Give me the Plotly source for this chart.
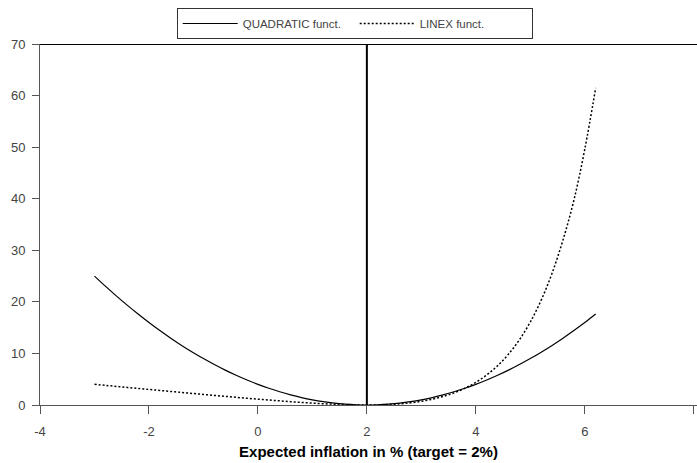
import plotly.graph_objects as go

# Expected inflation (%), inflation target = 2%
inflation = [-3.0, -2.8, -2.6, -2.4, -2.2, -2.0, -1.8, -1.6, -1.4, -1.2,
             -1.0, -0.8, -0.6, -0.4, -0.2, 0.0, 0.2, 0.4, 0.6, 0.8,
             1.0, 1.2, 1.4, 1.6, 1.8, 2.0, 2.2, 2.4, 2.6, 2.8,
             3.0, 3.2, 3.4, 3.6, 3.8, 4.0, 4.2, 4.4, 4.6, 4.8,
             5.0, 5.2, 5.4, 5.6, 5.8, 6.0, 6.2]

quadratic_loss = [25.0, 23.04, 21.16, 19.36, 17.64, 16.0, 14.44, 12.96, 11.56, 10.24,
                  9.0, 7.84, 6.76, 5.76, 4.84, 4.0, 3.24, 2.56, 1.96, 1.44,
                  1.0, 0.64, 0.36, 0.16, 0.04, 0.0, 0.04, 0.16, 0.36, 0.64,
                  1.0, 1.44, 1.96, 2.56, 3.24, 4.0, 4.84, 5.76, 6.76, 7.84,
                  9.0, 10.24, 11.56, 12.96, 14.44, 16.0, 17.64]

linex_loss = [4.007, 3.808, 3.610, 3.412, 3.215, 3.018, 2.822, 2.627, 2.433, 2.241,
              2.050, 1.861, 1.674, 1.491, 1.311, 1.135, 0.965, 0.802, 0.647, 0.501,
              0.368, 0.249, 0.149, 0.070, 0.019, 0.0, 0.021, 0.092, 0.222, 0.426,
              0.718, 1.120, 1.655, 2.353, 3.250, 4.389, 5.825, 7.623, 9.864, 12.645,
              16.086, 20.333, 25.564, 31.998, 39.701, 49.598, 61.486]

target = 2.0
x_ticks = [-4, -2, 0, 2, 4, 6, 8]
x_tick_labels = ["-4", "-2", "0", "2", "4", "6", "8"]
y_ticks = [0, 10, 20, 30, 40, 50, 60, 70]

fig = go.Figure()
fig.add_trace(go.Scatter(x=inflation, y=quadratic_loss, mode="lines",
                         name="QUADRATIC funct.",
                         line=dict(color="black", width=1.2, shape="spline")))
fig.add_trace(go.Scatter(x=inflation, y=linex_loss, mode="lines",
                         name="LINEX funct.",
                         line=dict(color="black", width=1.5, dash="2px,2px", shape="spline")))

# target marker and top frame line
fig.add_shape(type="line", x0=target, x1=target, y0=0, y1=70,
              line=dict(color="black", width=2), layer="above")
fig.add_shape(type="line", x0=-4, x1=8.1, y0=70, y1=70,
              line=dict(color="black", width=2), layer="above")

fig.update_layout(
    width=697, height=463,
    margin=dict(l=40, r=0, t=44, b=58),
    plot_bgcolor="white", paper_bgcolor="white",
    font=dict(family="Liberation Sans, Arial, sans-serif", color="#444", size=12),
    showlegend=True,
    legend=dict(orientation="h", x=0.479, xanchor="center", y=1.0997, yanchor="top",
                bordercolor="#333", borderwidth=1, bgcolor="white",
                font=dict(size=11.5, color="#444"), itemwidth=55,
                entrywidthmode="pixels", entrywidth=107),
    xaxis=dict(range=[-4, 8.06], tickvals=x_ticks, ticktext=x_tick_labels,
               showgrid=False, zeroline=False,
               showline=True, linecolor="#555", linewidth=1,
               ticks="outside", ticklen=8, tickcolor="#555",
               ticklabelstandoff=6,
               tickfont=dict(size=13, color="#444"),
               title=dict(text="<b>Expected inflation in % (target = 2%)</b>",
                          font=dict(size=15, color="black"), standoff=8)),
    yaxis=dict(range=[0, 70], tickvals=y_ticks, showgrid=False, zeroline=False,
               showline=True, linecolor="#555", linewidth=1,
               ticks="outside", ticklen=7, tickcolor="#555",
               ticklabelstandoff=4,
               tickfont=dict(size=13, color="#444")),
)

fig.write_html("out.html")
